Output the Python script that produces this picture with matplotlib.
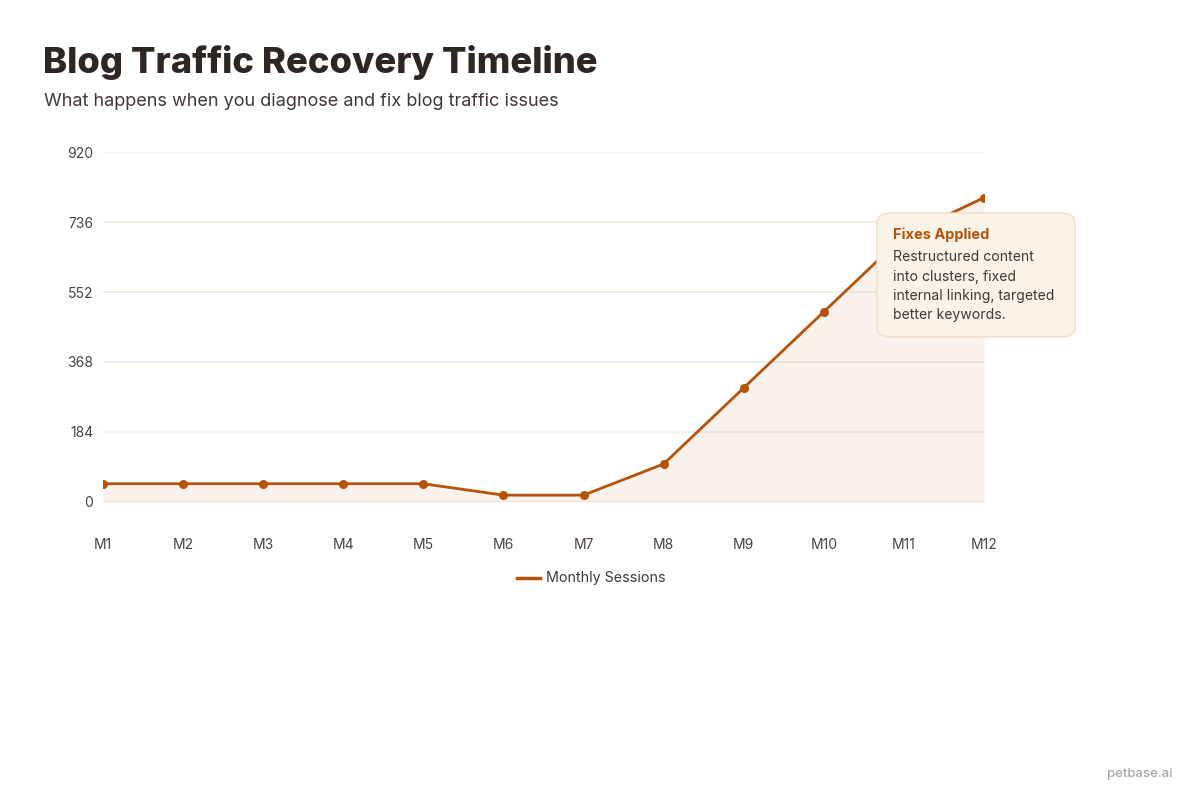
import matplotlib.pyplot as plt
from matplotlib.patches import FancyBboxPatch
from matplotlib.lines import Line2D

# chart data
months = ["M1", "M2", "M3", "M4", "M5", "M6", "M7", "M8", "M9", "M10", "M11", "M12"]
sessions = [48, 48, 48, 48, 48, 18, 18, 100, 300, 500, 700, 800]
y_ticks = [0, 184, 368, 552, 736, 920]

title = "Blog Traffic Recovery Timeline"
subtitle = "What happens when you diagnose and fix blog traffic issues"
tip_title = "Fixes Applied"
tip_body = "Restructured content\ninto clusters, fixed\ninternal linking, targeted\nbetter keywords."
series_name = "Monthly Sessions"

ORANGE = "#b45309"
DARK = "#2e2623"
GRID = "#f1ece2"

plt.rcParams['font.family'] = ['Inter', 'DejaVu Sans']

W, H = 1200, 800
fig = plt.figure(figsize=(12, 8), dpi=100)
fig.patch.set_facecolor("white")

def fx(px):
  return px / W

def fy(py):
  return 1 - py / H

ax = fig.add_axes([fx(103), fy(502), fx(984) - fx(103), fy(152) - fy(502)])
xs = list(range(len(months)))
ax.fill_between(xs, sessions, 0, color=ORANGE, alpha=0.08, linewidth=0, zorder=1)
ax.plot(xs, sessions, color=ORANGE, linewidth=2, marker="o", markersize=5.5, zorder=3)

ax.set_xlim(0, len(months) - 1)
ax.set_ylim(0, y_ticks[-1])
ax.set_yticks(y_ticks)
ax.set_xticks(xs)
ax.set_xticklabels(months)
ax.grid(axis="y", color=GRID, linewidth=1.2, zorder=0)
ax.set_axisbelow(True)
for s in ax.spines.values():
  s.set_visible(False)
ax.tick_params(axis="both", length=0, labelsize=10, labelcolor="#4a4340")
ax.tick_params(axis="y", pad=7)
ax.tick_params(axis="x", pad=26)

# title block
fig.text(fx(43), fy(73), title, fontsize=26.2, fontweight="heavy", color=DARK, va="baseline")
fig.text(fx(44), fy(106), subtitle, fontsize=13, color="#3f3936", va="baseline")

# tooltip box
box = FancyBboxPatch((fx(877), fy(337)), fx(1075) - fx(877), fy(213) - fy(337),
                     boxstyle="round,pad=0,rounding_size=0.012", transform=fig.transFigure,
                     facecolor="#faf3e8", edgecolor="#efdfc6", linewidth=1, zorder=10)
fig.patches.append(box)
fig.text(fx(893), fy(235), tip_title, fontsize=10.5, fontweight="bold", color=ORANGE,
         va="center", zorder=11)
fig.text(fx(893), fy(250), tip_body, fontsize=10.1, color="#3f3936", va="top",
         linespacing=1.5, zorder=11)

# legend
fig.lines.append(Line2D([fx(517), fx(540)], [fy(578), fy(578)], transform=fig.transFigure,
                        color=ORANGE, linewidth=2.5))
fig.text(fx(546), fy(578), series_name, fontsize=10.3, color="#3f3936", va="center")

# watermark
fig.text(fx(1172), fy(774), "petbase.ai", fontsize=9.5, color="#a8a8a8", ha="right", va="center",
         fontweight="medium")

fig.savefig("out.png", dpi=100)
